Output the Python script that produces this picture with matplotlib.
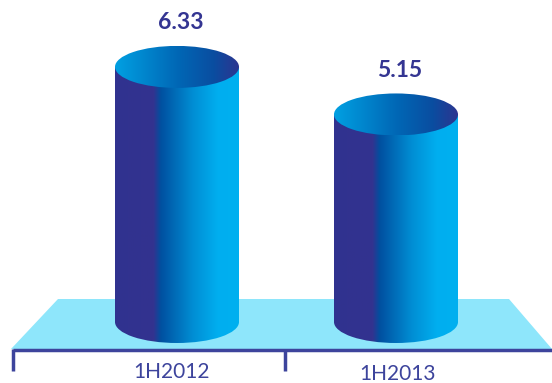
import numpy as np
import matplotlib
matplotlib.use("Agg")
import matplotlib.pyplot as plt
from matplotlib.patches import Ellipse, Polygon, Rectangle
from matplotlib.colors import LinearSegmentedColormap

categories = ["1H2012", "1H2013"]
values = [6.33, 5.15]
value_labels = ["6.33", "5.15"]

NAVY = "#343592"
AXIS_C = "#3D449C"
FLOOR_C = "#8EE6FB"

side_cmap = LinearSegmentedColormap.from_list("side", [
    (0.0, "#30328F"), (0.31, "#33338F"), (0.37, "#0050A0"),
    (0.63, "#008ED4"), (0.83, "#00AEEF"), (1.0, "#00B0F0")])
top_cmap = LinearSegmentedColormap.from_list("top", [
    (0.0, "#00A0E2"), (0.5, "#0068B6"), (0.8, "#0A4DA0"), (1.0, "#2D3590")])

W, H = 552, 383
fig = plt.figure(figsize=(W / 100, H / 100), dpi=100)
ax = fig.add_axes([0, 0, 1, 1])
# y in value units: 40.3 px per unit, base of cylinders at pixel row 322
scale = 40.3
base_px = 322
ax.set_xlim(0, W)
ax.set_ylim(-(H - base_px) / scale, base_px / scale)
ax.axis("off")

def py(p):
    return (base_px - p) / scale

# floor
floor = Polygon([(11, py(349)), (58, py(299)), (509, py(299)), (552, py(349))],
                closed=True, facecolor=FLOOR_C, edgecolor="none", zorder=1)
ax.add_patch(floor)

centers = [177, 396]
cw = 124
eh = 42 / scale
grad = np.linspace(0, 1, 256).reshape(1, -1)

for cx, v, lab in zip(centers, values, value_labels):
    x0, x1 = cx - cw / 2, cx + cw / 2
    # side body: rectangle + bottom half ellipse
    body = Rectangle((x0, 0), cw, v, facecolor="none", edgecolor="none")
    bottom = Ellipse((cx, 0), cw, eh, facecolor="none", edgecolor="none")
    ax.add_patch(body)
    ax.add_patch(bottom)
    for clip in (body, bottom):
        im = ax.imshow(grad, cmap=side_cmap, aspect="auto",
                       extent=(x0, x1, -eh, v), zorder=3)
        im.set_clip_path(clip)
    top = Ellipse((cx, v), cw, eh, facecolor="none", edgecolor="none")
    ax.add_patch(top)
    im = ax.imshow(grad, cmap=top_cmap, aspect="auto",
                   extent=(x0, x1, v - eh / 2, v + eh / 2), zorder=4)
    im.set_clip_path(top)
    ax.text(cx + 4, v + eh / 2 + 16.5 / scale, lab, ha="center", va="baseline",
            fontsize=16.5, fontweight="bold", color=NAVY, family="Lato", zorder=5)

# axis line and ticks
ax.plot([13, 552], [py(350), py(350)], color=AXIS_C, lw=2.5,
        solid_capstyle="butt", zorder=6)
for tx in [13, 285]:
    ax.plot([tx, tx], [py(349), py(371)], color=AXIS_C, lw=2.5,
            solid_capstyle="butt", zorder=6)

label_x = [172, 398]
label_y = [377.5, 379.5]
for lx, ly, c in zip(label_x, label_y, categories):
    ax.text(lx, py(ly), c, ha="center", va="baseline", fontsize=15,
            color=AXIS_C, family="Lato", zorder=6)

fig.savefig("out.png", dpi=100)
